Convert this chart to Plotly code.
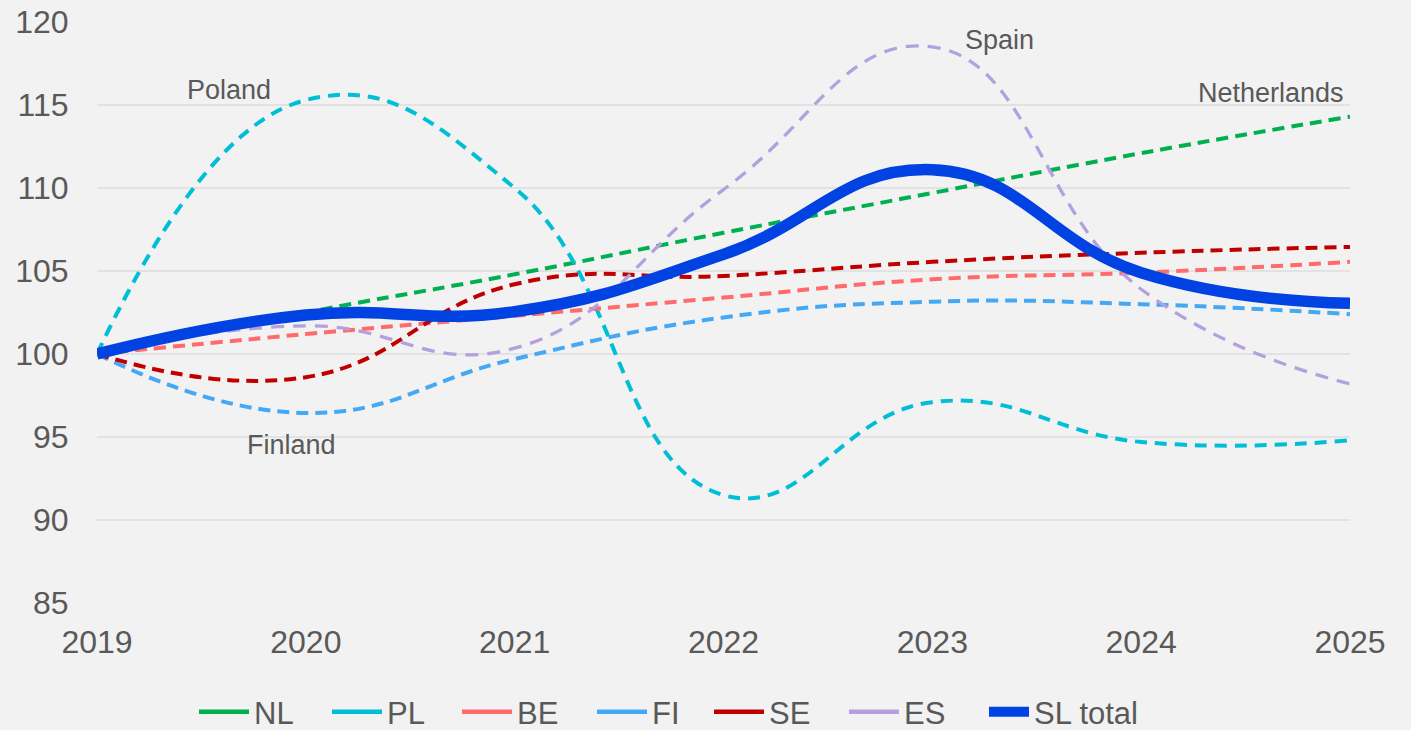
import plotly.graph_objects as go

years = [2019, 2020, 2021, 2022, 2023, 2024, 2025]

nl = [100, 102.5, 104.8, 107.3, 109.7, 112.1, 114.3]
pl = [100, 115.3, 110.0, 91.5, 97.1, 94.7, 94.8]
be = [100, 101.2, 102.3, 103.4, 104.5, 104.9, 105.55]
fi = [100, 96.45, 99.7, 102.2, 103.15, 103.0, 102.4]
se = [100, 98.6, 104.2, 104.7, 105.55, 106.1, 106.45]
es = [100, 101.7, 100.35, 109.9, 118.5, 103.9, 98.2]
sl_total = [100, 102.35, 102.55, 106.0, 111.1, 104.9, 103.05]

series_names = ["NL", "PL", "BE", "FI", "SE", "ES", "SL total"]
series_values = [nl, pl, be, fi, se, es, sl_total]
colors = ["#00B050", "#00BED6", "#FF6B6B", "#45A8F5", "#C00000", "#B4A0DF", "#0043E2"]
widths = [4, 4, 4, 4, 4, 3.3, 11.5]
dashes = ["12px,7px", "12px,8px", "12px,7px", "12px,7px", "12px,7px", "13px,9px", "solid"]

labels = [("Poland", 2019.63, 115.9), ("Spain", 2023.32, 118.9),
          ("Netherlands", 2024.62, 115.7), ("Finland", 2019.93, 94.5)]

y_ticks = [85, 90, 95, 100, 105, 110, 115, 120]

TXT = "#595959"
FONT = "Liberation Sans, Arial, sans-serif"

# one small legend per entry so the spacing can follow the reference
legend_ids = ["legend"] + ["legend%d" % i for i in range(2, 8)]
legend_left_px = [194, 327, 457, 592, 709, 844, 984]
legend_itemwidth = [50, 50, 50, 50, 50, 50, 40]

fig = go.Figure()
for name, vals, c, w, d in zip(series_names, series_values, colors, widths, dashes):
    fig.add_trace(go.Scatter(
        x=years, y=vals, mode="lines", name=name, showlegend=False,
        line=dict(color=c, width=w, dash=d, shape="spline", smoothing=1.3),
        hoverinfo="x+y+name"))
# legend proxies (solid samples like the reference legend)
for name, c, w, lid in zip(series_names, colors, widths, legend_ids):
    fig.add_trace(go.Scatter(
        x=[None], y=[None], mode="lines", name=name, showlegend=True, legend=lid,
        line=dict(color=c, width=(4.5 if w < 5 else 11))))

for text, x, y in labels:
    fig.add_annotation(x=x, y=y, text=text, showarrow=False,
                       font=dict(size=27, color=TXT, family=FONT),
                       xanchor="center", yanchor="middle")

legend_layout = {}
for lid, lx, iw in zip(legend_ids, legend_left_px, legend_itemwidth):
    legend_layout[lid] = dict(
        orientation="h", xref="container", yref="container",
        x=lx / 1411, xanchor="left", y=18 / 730, yanchor="middle",
        font=dict(size=31, color=TXT, family=FONT),
        bgcolor="rgba(0,0,0,0)", itemwidth=iw)

fig.update_layout(
    width=1411, height=730,
    paper_bgcolor="#F2F2F2", plot_bgcolor="#F2F2F2",
    margin=dict(l=97, r=61, t=22, b=127, autoexpand=False),
    font=dict(family=FONT, color=TXT, size=32),
    showlegend=True,
    xaxis=dict(range=[2019, 2025], tickvals=years, ticktext=[str(y) for y in years],
               showgrid=False, zeroline=False, showline=False, automargin=False,
               ticks="outside", ticklen=11, tickcolor="rgba(0,0,0,0)",
               tickfont=dict(size=32, color=TXT, family=FONT)),
    yaxis=dict(range=[85, 120], tickvals=y_ticks, showgrid=True, gridcolor="#E2E2E2",
               gridwidth=1.5, zeroline=False, showline=False, automargin=False,
               ticks="outside", ticklen=21, tickcolor="rgba(0,0,0,0)",
               tickfont=dict(size=32, color=TXT, family=FONT)),
    **legend_layout,
)

fig.write_html("out.html", config={"displayModeBar": False},
               post_script="document.body.style.margin='0px';")
